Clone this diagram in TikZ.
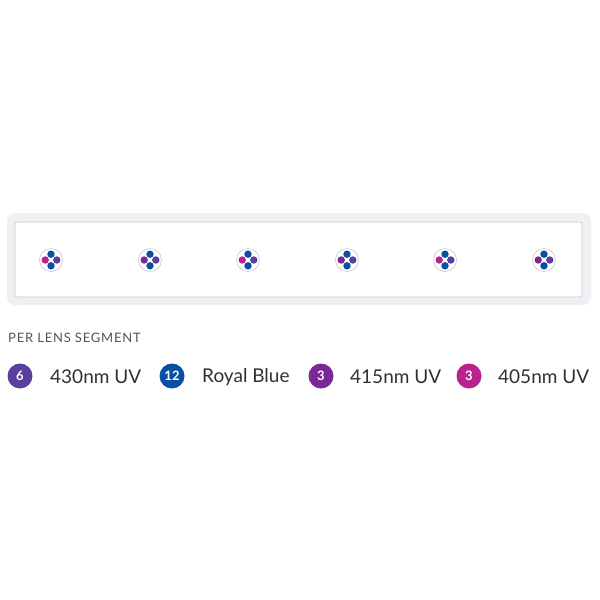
\documentclass[tikz,border=0pt]{standalone}
\usepackage{fontspec}
\setmainfont{Lato}
\usetikzlibrary{positioning}

\definecolor{cUVa}{HTML}{5B3F9E}
\definecolor{cBlue}{HTML}{0B4FA3}
\definecolor{cUVb}{HTML}{7B2896}
\definecolor{cUVc}{HTML}{B8238F}
\definecolor{frame}{HTML}{EEF0F3}
\definecolor{rim}{HTML}{C9CACE}
\definecolor{head}{HTML}{505459}
\definecolor{txt}{HTML}{2E3033}

\tikzset{
  badge/.style={circle, fill=#1, text=white, inner sep=0pt, minimum size=25pt, font=\fontsize{13}{13}\selectfont\bfseries},
  legtext/.style={anchor=west, text=txt, inner sep=0pt, font=\fontsize{19}{19}\selectfont},
  dot/.style={circle, fill=#1, inner sep=0pt, minimum size=7.4pt},
  lens/.style={circle, draw=rim, line width=0.6pt, fill=white, inner sep=0pt, minimum size=23pt}
}

\begin{document}
\begin{tikzpicture}[x=1pt, y=-1pt]
    \useasboundingbox (0,0) rectangle (600,600);

    % strip
    \node[draw=none, fill=frame, rounded corners=8pt, minimum width=584pt, minimum height=92pt, inner sep=0pt] (strip) at (299,259) {};
    \node[draw=rim, fill=white, rounded corners=2pt, line width=0.7pt, minimum width=567pt, minimum height=75pt, inner sep=0pt] (board) at (298.5,259.5) {};

    % lenses
    \foreach \n/\xx/\side in {1/51/cUVc, 2/150/cUVb, 3/248/cUVc, 4/347/cUVb, 5/445/cUVc, 6/544/cUVb} {
        \node[lens] (lens\n) at (\xx,260) {};
        \node[dot=cBlue] (lens\n t) at ([yshift=5.8pt]lens\n.center) {};
        \node[dot=cBlue] (lens\n b) at ([yshift=-5.8pt]lens\n.center) {};
        \node[dot=\side] (lens\n l) at ([xshift=-5.8pt]lens\n.center) {};
        \node[dot=cUVa] (lens\n r) at ([xshift=5.8pt]lens\n.center) {};
    }

    % legend
    \node[anchor=west, inner sep=0pt, text=head, font=\fontsize{13}{13}\selectfont] (title) at (8,338) {\addfontfeature{LetterSpace=6}PER LENS SEGMENT};

    \node[badge=cUVa] (b1) at (20,376) {6};
    \node[legtext] (t1) at (50,377) {430nm UV};
    \node[badge=cBlue] (b2) at (172,376) {12};
    \node[legtext] (t2) at (202,377) {Royal Blue};
    \node[badge=cUVb] (b3) at (321,376) {3};
    \node[legtext] (t3) at (350,377) {415nm UV};
    \node[badge=cUVc] (b4) at (469,376) {3};
    \node[legtext] (t4) at (498,377) {405nm UV};
\end{tikzpicture}
\end{document}
